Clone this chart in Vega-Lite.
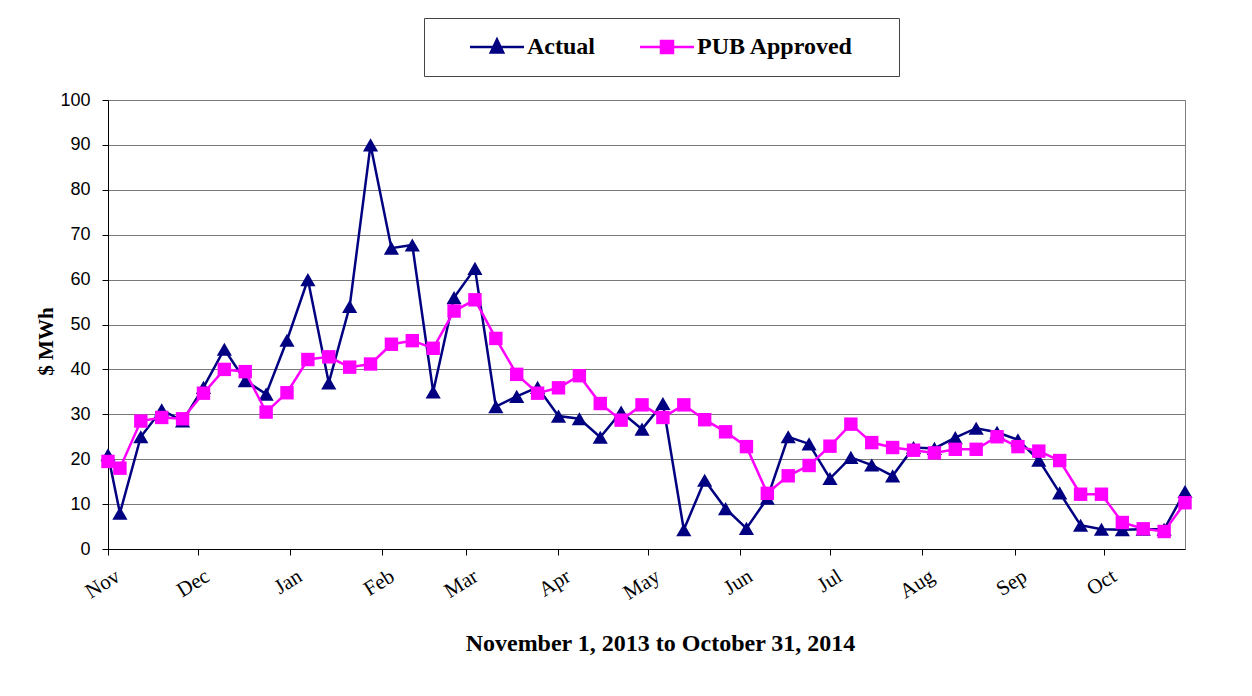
{
  "$schema": "https://vega.github.io/schema/vega-lite/v6.json",
  "width": 1077,
  "height": 449,
  "autosize": {"type": "none"},
  "padding": {"left": 108, "top": 100, "right": 67, "bottom": 147},
  "background": "white",
  "data": {"values": [
    {"date": "2013-11-01", "Actual": 21, "PUB Approved": 19.5},
    {"date": "2013-11-05", "Actual": 8, "PUB Approved": 18},
    {"date": "2013-11-12", "Actual": 25, "PUB Approved": 28.5},
    {"date": "2013-11-19", "Actual": 31, "PUB Approved": 29.3},
    {"date": "2013-11-26", "Actual": 28.5, "PUB Approved": 29},
    {"date": "2013-12-03", "Actual": 36, "PUB Approved": 34.7},
    {"date": "2013-12-10", "Actual": 44.5, "PUB Approved": 40},
    {"date": "2013-12-17", "Actual": 37.5, "PUB Approved": 39.5},
    {"date": "2013-12-24", "Actual": 34.5, "PUB Approved": 30.5},
    {"date": "2013-12-31", "Actual": 46.5, "PUB Approved": 34.8},
    {"date": "2014-01-07", "Actual": 60, "PUB Approved": 42.2},
    {"date": "2014-01-14", "Actual": 37, "PUB Approved": 42.8},
    {"date": "2014-01-21", "Actual": 54, "PUB Approved": 40.5},
    {"date": "2014-01-28", "Actual": 90, "PUB Approved": 41.2},
    {"date": "2014-02-04", "Actual": 67, "PUB Approved": 45.6},
    {"date": "2014-02-11", "Actual": 67.7, "PUB Approved": 46.4},
    {"date": "2014-02-18", "Actual": 35, "PUB Approved": 44.7},
    {"date": "2014-02-25", "Actual": 56, "PUB Approved": 53},
    {"date": "2014-03-04", "Actual": 62.5, "PUB Approved": 55.5},
    {"date": "2014-03-11", "Actual": 31.7, "PUB Approved": 46.9},
    {"date": "2014-03-18", "Actual": 34, "PUB Approved": 38.9},
    {"date": "2014-03-25", "Actual": 36, "PUB Approved": 34.7},
    {"date": "2014-04-01", "Actual": 29.6, "PUB Approved": 35.9},
    {"date": "2014-04-08", "Actual": 29, "PUB Approved": 38.6},
    {"date": "2014-04-15", "Actual": 24.9, "PUB Approved": 32.4},
    {"date": "2014-04-22", "Actual": 30.5, "PUB Approved": 28.7},
    {"date": "2014-04-29", "Actual": 26.7, "PUB Approved": 32.1},
    {"date": "2014-05-06", "Actual": 32.4, "PUB Approved": 29.3},
    {"date": "2014-05-13", "Actual": 4.3, "PUB Approved": 32.1},
    {"date": "2014-05-20", "Actual": 15.3, "PUB Approved": 28.8},
    {"date": "2014-05-27", "Actual": 9, "PUB Approved": 26.1},
    {"date": "2014-06-03", "Actual": 4.6, "PUB Approved": 22.8},
    {"date": "2014-06-10", "Actual": 11.3, "PUB Approved": 12.4},
    {"date": "2014-06-17", "Actual": 25, "PUB Approved": 16.3},
    {"date": "2014-06-24", "Actual": 23.4, "PUB Approved": 18.6},
    {"date": "2014-07-01", "Actual": 15.7, "PUB Approved": 22.9},
    {"date": "2014-07-08", "Actual": 20.4, "PUB Approved": 27.8},
    {"date": "2014-07-15", "Actual": 18.7, "PUB Approved": 23.7},
    {"date": "2014-07-22", "Actual": 16.3, "PUB Approved": 22.6},
    {"date": "2014-07-29", "Actual": 22.6, "PUB Approved": 22},
    {"date": "2014-08-05", "Actual": 22.4, "PUB Approved": 21.4},
    {"date": "2014-08-12", "Actual": 24.8, "PUB Approved": 22.2},
    {"date": "2014-08-19", "Actual": 26.9, "PUB Approved": 22.2},
    {"date": "2014-08-26", "Actual": 26, "PUB Approved": 25},
    {"date": "2014-09-02", "Actual": 24.3, "PUB Approved": 22.8},
    {"date": "2014-09-09", "Actual": 19.8, "PUB Approved": 21.8},
    {"date": "2014-09-16", "Actual": 12.5, "PUB Approved": 19.7},
    {"date": "2014-09-23", "Actual": 5.3, "PUB Approved": 12.2},
    {"date": "2014-09-30", "Actual": 4.4, "PUB Approved": 12.2},
    {"date": "2014-10-07", "Actual": 4.3, "PUB Approved": 5.9},
    {"date": "2014-10-14", "Actual": 4.4, "PUB Approved": 4.5},
    {"date": "2014-10-21", "Actual": 4.4, "PUB Approved": 3.9},
    {"date": "2014-10-28", "Actual": 12.8, "PUB Approved": 10.3}
  ]},
  "transform": [{"fold": ["Actual", "PUB Approved"], "as": ["series", "value"]}],
  "encoding": {
    "x": {
      "field": "date",
      "type": "temporal",
      "title": "November 1, 2013 to October 31, 2014",
      "scale": {"type": "utc", "domain": [{"year": 2013, "month": 11, "date": 1, "utc": true}, {"year": 2014, "month": 10, "date": 28, "utc": true}]},
      "axis": {
        "tickCount": {"interval": "month", "step": 1},
        "format": "%b",
        "grid": false,
        "labelAngle": -32,
        "labelAlign": "right",
        "labelBaseline": "top",
        "labelOffset": 4,
        "labelPadding": 10,
        "labelFont": "Liberation Serif",
        "labelFontSize": 21,
        "labelColor": "black",
        "labelFlush": false,
        "labelOverlap": false,
        "tickColor": "black",
        "tickSize": 6,
        "domainColor": "black",
        "titleFont": "Liberation Serif",
        "titleFontSize": 24,
        "titleFontWeight": "bold",
        "titleColor": "black",
        "titleX": 552,
        "titleY": 94,
        "titleAlign": "center",
        "titleBaseline": "middle"
      }
    },
    "y": {
      "field": "value",
      "type": "quantitative",
      "title": "$ MWh",
      "scale": {"domain": [0, 100]},
      "axis": {
        "values": [0, 10, 20, 30, 40, 50, 60, 70, 80, 90, 100],
        "labelFont": "Liberation Sans",
        "labelFontSize": 18,
        "labelColor": "black",
        "labelPadding": 12,
        "tickColor": "black",
        "tickSize": 6,
        "domainColor": "black",
        "gridColor": "#7a7a7a",
        "gridWidth": 1,
        "titleFont": "Liberation Serif",
        "titleFontSize": 21,
        "titleFontWeight": "bold",
        "titleColor": "black",
        "titlePadding": 3,
        "titleY": 241,
        "titleAlign": "center"
      }
    }
  },
  "layer": [
    {
      "transform": [{"filter": "datum.series == 'Actual'"}],
      "mark": {"type": "line", "color": "#000080", "strokeWidth": 2.5,
        "point": {"shape": "triangle-up", "filled": true, "size": 230, "fill": "#000080", "opacity": 1}}
    },
    {
      "transform": [{"filter": "datum.series == 'PUB Approved'"}],
      "mark": {"type": "line", "color": "#FF00FF", "strokeWidth": 2.5,
        "point": {"shape": "square", "filled": true, "size": 180, "fill": "#FF00FF", "opacity": 1}}
    },
    {
      "mark": {"type": "point", "filled": true, "opacity": 0, "size": 400, "strokeWidth": 2.5},
      "encoding": {
        "fill": {"field": "series", "type": "nominal", "scale": {"domain": ["Actual", "PUB Approved"], "range": ["#000080", "#FF00FF"]}, "legend": {"title": null}},
        "stroke": {"field": "series", "type": "nominal", "scale": {"domain": ["Actual", "PUB Approved"], "range": ["#000080", "#FF00FF"]}, "legend": {"title": null}},
        "shape": {"field": "series", "type": "nominal", "scale": {"domain": ["Actual", "PUB Approved"], "range": ["M-1,0M1.7,0H7.1M4.4,-0.75L5.02,0.55L3.78,0.55Z", "M-1,0M25.4,0M1.7,0H7.1M3.8,-0.6H5V0.6H3.8Z"]}, "legend": {"title": null}}
      }
    }
  ],
  "config": {
    "view": {"stroke": "#808080", "strokeWidth": 1},
    "legend": {
      "orient": "none",
      "legendX": 316,
      "legendY": -82,
      "direction": "horizontal",
      "padding": 17,
      "strokeColor": "#444444",
      "fillColor": "white",
      "columnPadding": 13,
      "labelOffset": 62,
      "labelFont": "Liberation Serif",
      "labelFontSize": 24,
      "labelFontWeight": "bold",
      "labelColor": "black",
      "labelLimit": 400,
      "symbolSize": 400,
      "symbolStrokeWidth": 2.5,
      "symbolOpacity": 1
    }
  }
}
